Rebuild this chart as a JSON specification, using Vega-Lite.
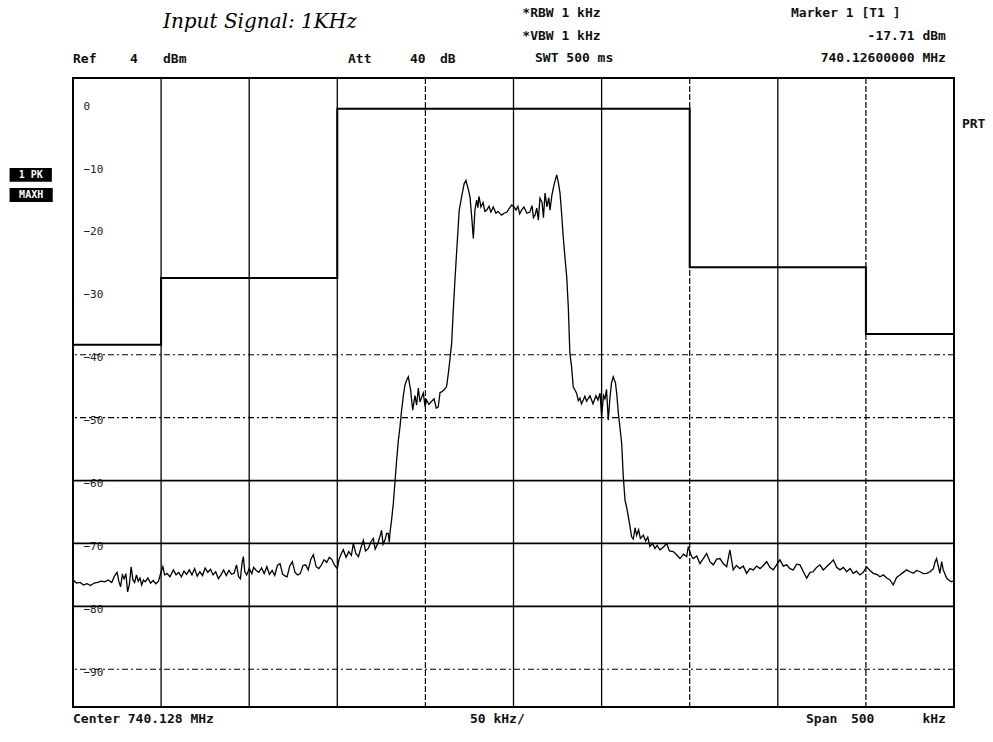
{
  "$schema": "https://vega.github.io/schema/vega-lite/v6.json",
  "width": 881,
  "height": 629,
  "autosize": {"type": "none"},
  "padding": {"left": 73, "top": 78, "right": 39, "bottom": 35},
  "background": "white",
  "config": {"view": {"stroke": "#000", "strokeWidth": 2}},
  "datasets": {
    "vsolid": [{"f": -200}, {"f": -150}, {"f": -100}, {"f": 0}, {"f": 50}, {"f": 150}],
    "vdash": [{"f": -50}, {"f": 100}, {"f": 200}],
    "hsolid": [{"db": -60}, {"db": -70}, {"db": -80}],
    "hdash": [{"db": -40}, {"db": -50}, {"db": -90}],
    "mask": [
      {"f": -250, "db": -38.4}, {"f": -200, "db": -27.8}, {"f": -100, "db": -0.9},
      {"f": 100, "db": -26.1}, {"f": 200, "db": -36.7}, {"f": 250, "db": -36.7}
    ],
    "trace": [
      {"f": -250, "db": -75.8}, {"f": -248, "db": -76.3}, {"f": -246, "db": -76.2}, {"f": -244, "db": -76.6},
      {"f": -242, "db": -76.4}, {"f": -240, "db": -76.7}, {"f": -238, "db": -76.3}, {"f": -236, "db": -76.2},
      {"f": -234, "db": -76.0}, {"f": -232, "db": -76.1}, {"f": -230, "db": -75.8}, {"f": -228, "db": -76.2},
      {"f": -226.5, "db": -75.2}, {"f": -225, "db": -74.6}, {"f": -224, "db": -76.0}, {"f": -223, "db": -76.9},
      {"f": -222, "db": -75.0}, {"f": -221, "db": -75.6}, {"f": -220, "db": -74.8}, {"f": -219, "db": -77.7},
      {"f": -218, "db": -76.5}, {"f": -217, "db": -73.7}, {"f": -216, "db": -75.8}, {"f": -215, "db": -76.2},
      {"f": -214, "db": -75.0}, {"f": -213, "db": -76.0}, {"f": -212, "db": -75.5}, {"f": -211, "db": -76.6},
      {"f": -210, "db": -75.8}, {"f": -209, "db": -76.1}, {"f": -207.5, "db": -75.5}, {"f": -206, "db": -76.3},
      {"f": -204.5, "db": -75.9}, {"f": -203, "db": -76.4}, {"f": -201.5, "db": -76.0}, {"f": -200, "db": -74.5},
      {"f": -199, "db": -73.7}, {"f": -198, "db": -75.0}, {"f": -196.5, "db": -74.8}, {"f": -195, "db": -75.3},
      {"f": -193, "db": -74.2}, {"f": -191.5, "db": -75.0}, {"f": -190, "db": -74.6}, {"f": -188.5, "db": -75.3},
      {"f": -187, "db": -74.4}, {"f": -185.5, "db": -74.9}, {"f": -184, "db": -74.2}, {"f": -182.5, "db": -75.0},
      {"f": -181, "db": -74.0}, {"f": -179.5, "db": -75.2}, {"f": -178, "db": -74.5}, {"f": -176.5, "db": -75.1},
      {"f": -175, "db": -73.9}, {"f": -173.5, "db": -74.6}, {"f": -172, "db": -74.1}, {"f": -170.5, "db": -75.0},
      {"f": -169, "db": -74.5}, {"f": -167.5, "db": -75.6}, {"f": -166, "db": -75.0}, {"f": -164.5, "db": -74.2},
      {"f": -163, "db": -75.1}, {"f": -161.5, "db": -74.3}, {"f": -160, "db": -74.9}, {"f": -158.5, "db": -74.7},
      {"f": -157.2, "db": -73.4}, {"f": -156, "db": -75.3}, {"f": -155, "db": -75.6}, {"f": -154, "db": -73.0},
      {"f": -153.3, "db": -72.1}, {"f": -152.5, "db": -74.5}, {"f": -151.4, "db": -75.0}, {"f": -150, "db": -74.0},
      {"f": -148.5, "db": -74.8}, {"f": -147.5, "db": -73.8}, {"f": -146, "db": -74.3}, {"f": -144.5, "db": -74.6},
      {"f": -143, "db": -73.9}, {"f": -141.5, "db": -74.8}, {"f": -140, "db": -73.7}, {"f": -138.5, "db": -74.9},
      {"f": -137, "db": -74.3}, {"f": -135.5, "db": -75.1}, {"f": -134, "db": -73.5}, {"f": -132.5, "db": -73.2},
      {"f": -131, "db": -74.9}, {"f": -129.5, "db": -75.2}, {"f": -128.5, "db": -75.3}, {"f": -127, "db": -73.6},
      {"f": -125.5, "db": -72.9}, {"f": -124, "db": -74.6}, {"f": -122.5, "db": -75.0}, {"f": -121, "db": -74.8},
      {"f": -119.5, "db": -73.5}, {"f": -118, "db": -73.4}, {"f": -116.5, "db": -74.2}, {"f": -115, "db": -72.5},
      {"f": -113.6, "db": -71.8}, {"f": -112, "db": -73.7}, {"f": -110.5, "db": -74.0}, {"f": -109, "db": -73.4},
      {"f": -107.5, "db": -72.6}, {"f": -106, "db": -73.0}, {"f": -104.5, "db": -72.2}, {"f": -103, "db": -72.6},
      {"f": -101.5, "db": -73.5}, {"f": -100, "db": -74.0}, {"f": -99, "db": -72.5}, {"f": -98, "db": -71.8},
      {"f": -96.6, "db": -71.0}, {"f": -95, "db": -72.2}, {"f": -93.5, "db": -71.3}, {"f": -92, "db": -71.9},
      {"f": -90.9, "db": -70.0}, {"f": -89.5, "db": -71.6}, {"f": -88, "db": -72.1}, {"f": -86.5, "db": -70.6},
      {"f": -85.2, "db": -69.5}, {"f": -84, "db": -71.2}, {"f": -82.4, "db": -70.8}, {"f": -81, "db": -69.8},
      {"f": -79.6, "db": -69.2}, {"f": -78.5, "db": -70.9}, {"f": -77, "db": -70.0}, {"f": -75.5, "db": -68.6},
      {"f": -74.9, "db": -67.9}, {"f": -74, "db": -70.1}, {"f": -73, "db": -69.5}, {"f": -72, "db": -68.4},
      {"f": -71.1, "db": -68.4}, {"f": -70.5, "db": -69.8}, {"f": -70.1, "db": -68.3}, {"f": -69.2, "db": -66.3},
      {"f": -68.2, "db": -63.6}, {"f": -67.2, "db": -60.0}, {"f": -66.3, "db": -56.7}, {"f": -65.3, "db": -53.5},
      {"f": -64.4, "db": -51.4}, {"f": -63.5, "db": -48.8}, {"f": -62.5, "db": -46.5}, {"f": -61.6, "db": -44.8},
      {"f": -60.6, "db": -44.0}, {"f": -59.7, "db": -43.5}, {"f": -58.4, "db": -45.6}, {"f": -57.2, "db": -48.8},
      {"f": -56.5, "db": -47.5}, {"f": -55.9, "db": -46.5}, {"f": -55.0, "db": -48.0}, {"f": -54.0, "db": -45.3},
      {"f": -53.1, "db": -47.5}, {"f": -52.2, "db": -46.8}, {"f": -51.2, "db": -46.1}, {"f": -50.2, "db": -48.2},
      {"f": -49.3, "db": -47.2}, {"f": -48.0, "db": -47.9}, {"f": -46.8, "db": -47.5}, {"f": -45.1, "db": -47.0},
      {"f": -43.8, "db": -48.5}, {"f": -42.7, "db": -48.3}, {"f": -41.7, "db": -46.0}, {"f": -40.8, "db": -45.9},
      {"f": -39.5, "db": -45.6}, {"f": -38.0, "db": -45.1}, {"f": -37.0, "db": -43.0}, {"f": -36.1, "db": -40.8},
      {"f": -35.1, "db": -38.2}, {"f": -34.2, "db": -33.0}, {"f": -33.2, "db": -28.0}, {"f": -32.2, "db": -23.3},
      {"f": -30.8, "db": -17.0}, {"f": -29.2, "db": -14.5}, {"f": -28.0, "db": -12.8}, {"f": -27.0, "db": -12.3},
      {"f": -25.8, "db": -13.5}, {"f": -24.7, "db": -14.9}, {"f": -23.6, "db": -18.5}, {"f": -22.8, "db": -21.5},
      {"f": -21.9, "db": -17.0}, {"f": -20.9, "db": -15.4}, {"f": -20.2, "db": -16.6}, {"f": -19.6, "db": -14.8},
      {"f": -18.5, "db": -16.5}, {"f": -17.3, "db": -15.8}, {"f": -16.2, "db": -17.2}, {"f": -15.2, "db": -17.0},
      {"f": -13.9, "db": -16.4}, {"f": -12.8, "db": -17.3}, {"f": -11.5, "db": -16.5}, {"f": -9.95, "db": -17.5},
      {"f": -8.8, "db": -17.2}, {"f": -7.5, "db": -17.6}, {"f": -6.7, "db": -17.8}, {"f": -5.4, "db": -17.5},
      {"f": -3.7, "db": -17.3}, {"f": -2.6, "db": -16.8}, {"f": -1.0, "db": -16.2}, {"f": 0.3, "db": -16.5},
      {"f": 1.4, "db": -17.0}, {"f": 2.5, "db": -16.4}, {"f": 3.5, "db": -17.6}, {"f": 4.6, "db": -17.0},
      {"f": 5.9, "db": -16.5}, {"f": 7.6, "db": -17.5}, {"f": 9.3, "db": -17.3}, {"f": 10.5, "db": -16.3},
      {"f": 11.3, "db": -18.2}, {"f": 12.2, "db": -17.8}, {"f": 13.2, "db": -16.7}, {"f": 14.1, "db": -18.6},
      {"f": 15.0, "db": -15.1}, {"f": 16.2, "db": -15.8}, {"f": 17.0, "db": -18.2}, {"f": 17.9, "db": -14.3},
      {"f": 19.0, "db": -16.5}, {"f": 20.0, "db": -15.0}, {"f": 20.7, "db": -17.0}, {"f": 21.8, "db": -14.6},
      {"f": 23.0, "db": -13.0}, {"f": 24.5, "db": -11.4}, {"f": 25.4, "db": -12.5}, {"f": 26.4, "db": -14.3},
      {"f": 27.3, "db": -17.5}, {"f": 28.2, "db": -21.2}, {"f": 29.2, "db": -24.5}, {"f": 30.2, "db": -27.6},
      {"f": 31.1, "db": -32.4}, {"f": 32.0, "db": -39.8}, {"f": 33.0, "db": -42.0}, {"f": 33.9, "db": -45.1},
      {"f": 35.8, "db": -46.1}, {"f": 36.8, "db": -47.3}, {"f": 37.7, "db": -46.9}, {"f": 38.6, "db": -47.8},
      {"f": 39.6, "db": -47.2}, {"f": 40.5, "db": -46.6}, {"f": 41.5, "db": -47.4}, {"f": 43.4, "db": -46.5},
      {"f": 45.1, "db": -47.8}, {"f": 46.8, "db": -46.5}, {"f": 47.9, "db": -47.2}, {"f": 49.1, "db": -46.1},
      {"f": 50.0, "db": -49.8}, {"f": 51.1, "db": -46.5}, {"f": 51.9, "db": -47.0}, {"f": 52.8, "db": -45.5},
      {"f": 53.8, "db": -50.4}, {"f": 54.7, "db": -47.0}, {"f": 55.6, "db": -44.5}, {"f": 56.6, "db": -43.5},
      {"f": 57.9, "db": -44.5}, {"f": 58.7, "db": -46.5}, {"f": 59.5, "db": -49.3}, {"f": 60.4, "db": -51.5},
      {"f": 61.4, "db": -54.1}, {"f": 62.3, "db": -59.4}, {"f": 63.3, "db": -63.1}, {"f": 64.4, "db": -64.5},
      {"f": 65.2, "db": -65.8}, {"f": 66.1, "db": -67.3}, {"f": 67.0, "db": -68.9}, {"f": 68.0, "db": -69.3},
      {"f": 69.0, "db": -67.5}, {"f": 69.9, "db": -68.7}, {"f": 71.0, "db": -67.8}, {"f": 72.0, "db": -69.2},
      {"f": 73.7, "db": -68.7}, {"f": 75.0, "db": -69.6}, {"f": 76.2, "db": -69.0}, {"f": 77.4, "db": -70.5},
      {"f": 78.8, "db": -70.0}, {"f": 80.3, "db": -70.8}, {"f": 81.5, "db": -70.3}, {"f": 83.1, "db": -71.0},
      {"f": 85.0, "db": -70.6}, {"f": 86.9, "db": -70.0}, {"f": 88.5, "db": -71.2}, {"f": 90.7, "db": -71.3},
      {"f": 92.5, "db": -71.8}, {"f": 94.5, "db": -72.4}, {"f": 96.5, "db": -71.7}, {"f": 98.3, "db": -72.1},
      {"f": 99.2, "db": -70.5}, {"f": 100.1, "db": -71.3}, {"f": 101, "db": -72.0}, {"f": 102.0, "db": -72.4},
      {"f": 104, "db": -72.0}, {"f": 105.8, "db": -73.2}, {"f": 107.5, "db": -72.5}, {"f": 109.6, "db": -71.6},
      {"f": 111.5, "db": -72.9}, {"f": 113.4, "db": -73.4}, {"f": 115.3, "db": -72.5}, {"f": 117.2, "db": -72.4},
      {"f": 119, "db": -73.2}, {"f": 121.0, "db": -73.7}, {"f": 122.8, "db": -71.0}, {"f": 124.7, "db": -74.2},
      {"f": 126.5, "db": -73.5}, {"f": 128.5, "db": -74.0}, {"f": 130.4, "db": -73.6}, {"f": 132.3, "db": -74.75},
      {"f": 134.2, "db": -74.0}, {"f": 136.1, "db": -74.2}, {"f": 138, "db": -73.6}, {"f": 139.9, "db": -74.0},
      {"f": 141.8, "db": -73.5}, {"f": 143.7, "db": -72.9}, {"f": 145.5, "db": -73.8}, {"f": 147.4, "db": -74.2},
      {"f": 149.3, "db": -73.4}, {"f": 151.2, "db": -72.6}, {"f": 153.1, "db": -73.6}, {"f": 155.0, "db": -73.4},
      {"f": 156.9, "db": -74.0}, {"f": 158.8, "db": -74.2}, {"f": 160.7, "db": -73.3}, {"f": 162.6, "db": -73.4},
      {"f": 164.5, "db": -74.5}, {"f": 166.4, "db": -75.5}, {"f": 168.3, "db": -74.6}, {"f": 170.1, "db": -74.5},
      {"f": 172, "db": -73.8}, {"f": 173.9, "db": -73.4}, {"f": 175.8, "db": -74.2}, {"f": 177.7, "db": -73.7},
      {"f": 179.6, "db": -73.2}, {"f": 181.5, "db": -72.6}, {"f": 183.4, "db": -73.8}, {"f": 185.3, "db": -74.2},
      {"f": 187.2, "db": -73.8}, {"f": 189.1, "db": -74.5}, {"f": 191.0, "db": -74.0}, {"f": 192.8, "db": -74.75},
      {"f": 194.7, "db": -74.4}, {"f": 196.6, "db": -75.0}, {"f": 198.5, "db": -74.6}, {"f": 200.4, "db": -73.7},
      {"f": 202.3, "db": -74.3}, {"f": 204.2, "db": -74.75}, {"f": 206.1, "db": -74.9}, {"f": 208.0, "db": -75.3},
      {"f": 209.9, "db": -75.0}, {"f": 211.8, "db": -75.5}, {"f": 213.7, "db": -75.8}, {"f": 215.5, "db": -76.6},
      {"f": 217.4, "db": -75.4}, {"f": 219.3, "db": -75.0}, {"f": 221.2, "db": -74.6}, {"f": 223.1, "db": -74.2},
      {"f": 225.0, "db": -74.5}, {"f": 226.9, "db": -74.75}, {"f": 228.8, "db": -74.3}, {"f": 230.7, "db": -74.5},
      {"f": 232.6, "db": -74.8}, {"f": 234.5, "db": -74.75}, {"f": 236.4, "db": -74.5}, {"f": 238.3, "db": -74.0},
      {"f": 239.2, "db": -73.0}, {"f": 240.1, "db": -72.4}, {"f": 241.0, "db": -73.5}, {"f": 242.0, "db": -74.75},
      {"f": 243.0, "db": -72.9}, {"f": 243.9, "db": -74.2}, {"f": 245.8, "db": -75.5}, {"f": 247, "db": -75.8},
      {"f": 248.6, "db": -76.1}, {"f": 250, "db": -75.9}
    ],
    "notes": [
      {"f": -250, "db": 7.0, "label": "Ref"},
      {"f": -217.7, "db": 7.0, "label": "4"},
      {"f": -198.9, "db": 7.0, "label": "dBm"},
      {"f": -93.9, "db": 7.0, "label": "Att"},
      {"f": -58.8, "db": 7.0, "label": "40"},
      {"f": -41.7, "db": 7.0, "label": "dB"},
      {"f": 5.0, "db": 14.3, "label": "*RBW 1 kHz"},
      {"f": 5.0, "db": 10.7, "label": "*VBW 1 kHz"},
      {"f": 12.2, "db": 7.2, "label": "SWT 500 ms"},
      {"f": 157.5, "db": 14.3, "label": "Marker 1 [T1 ]"},
      {"f": -250, "db": -97.9, "label": "Center 740.128 MHz"},
      {"f": -24.7, "db": -97.9, "label": "50 kHz/"},
      {"f": 166, "db": -97.9, "label": "Span"},
      {"f": 191.5, "db": -97.9, "label": "500"},
      {"f": 254.5, "db": -3.3, "label": "PRT"}
    ],
    "rnotes": [
      {"f": 245.4, "db": 10.7, "label": "-17.71 dBm"},
      {"f": 245.4, "db": 7.2, "label": "740.12600000 MHz"},
      {"f": 245.4, "db": -97.9, "label": "kHz"}
    ],
    "hand": [{"f": -198.9, "db": 12.9, "label": "Input Signal:  1KHz"}],
    "boxes": [
      {"f1": -286, "f2": -262, "d1": -10.3, "d2": -12.5, "fm": -274, "dm": -11.4, "label": "1 PK"},
      {"f1": -286, "f2": -261.5, "d1": -13.5, "d2": -15.7, "fm": -273.75, "dm": -14.6, "label": "MAXH"}
    ]
  },
  "layer": [
    {
      "data": {"name": "vsolid"},
      "mark": {"type": "rule", "color": "#000", "strokeWidth": 1.3},
      "encoding": {
        "x": {"field": "f", "type": "quantitative", "scale": {"domain": [-250, 250], "nice": false, "zero": false}, "axis": null}
      }
    },
    {
      "data": {"name": "vdash"},
      "mark": {"type": "rule", "color": "#000", "strokeWidth": 1.2, "strokeDash": [6, 2]},
      "encoding": {"x": {"field": "f", "type": "quantitative", "axis": null}}
    },
    {
      "data": {"name": "hsolid"},
      "mark": {"type": "rule", "color": "#000", "strokeWidth": 1.7},
      "encoding": {
        "y": {
          "field": "db", "type": "quantitative",
          "scale": {"domain": [-96, 4], "nice": false, "zero": false},
          "axis": {
            "values": [0, -10, -20, -30, -40, -50, -60, -70, -80, -90],
            "orient": "left", "domain": false, "ticks": false, "tickSize": 0, "grid": false,
            "labelAlign": "left", "labelPadding": -10, "labelOffset": 3,
            "labelFont": "DejaVu Sans Mono", "labelFontSize": 11, "labelColor": "#222", "title": null
          }
        }
      }
    },
    {
      "data": {"name": "hdash"},
      "mark": {"type": "rule", "color": "#000", "strokeWidth": 1.2, "strokeDash": [6, 3, 2, 3]},
      "encoding": {"y": {"field": "db", "type": "quantitative"}}
    },
    {
      "data": {"name": "mask"},
      "mark": {"type": "line", "color": "#000", "strokeWidth": 2, "interpolate": "step-after"},
      "encoding": {
        "x": {"field": "f", "type": "quantitative", "axis": null},
        "y": {"field": "db", "type": "quantitative"}
      }
    },
    {
      "data": {"name": "trace"},
      "mark": {"type": "line", "color": "#000", "strokeWidth": 1.3},
      "encoding": {
        "x": {"field": "f", "type": "quantitative", "axis": null},
        "y": {"field": "db", "type": "quantitative"}
      }
    },
    {
      "data": {"name": "notes"},
      "mark": {"type": "text", "align": "left", "baseline": "middle", "font": "DejaVu Sans Mono", "fontSize": 13, "fontWeight": "bold", "color": "#111"},
      "encoding": {
        "x": {"field": "f", "type": "quantitative", "axis": null},
        "y": {"field": "db", "type": "quantitative"},
        "text": {"field": "label"}
      }
    },
    {
      "data": {"name": "rnotes"},
      "mark": {"type": "text", "align": "right", "baseline": "middle", "font": "DejaVu Sans Mono", "fontSize": 13, "fontWeight": "bold", "color": "#111"},
      "encoding": {
        "x": {"field": "f", "type": "quantitative", "axis": null},
        "y": {"field": "db", "type": "quantitative"},
        "text": {"field": "label"}
      }
    },
    {
      "data": {"name": "hand"},
      "mark": {"type": "text", "align": "left", "baseline": "middle", "font": "DejaVu Serif", "fontStyle": "italic", "fontSize": 20, "color": "#000"},
      "encoding": {
        "x": {"field": "f", "type": "quantitative", "axis": null},
        "y": {"field": "db", "type": "quantitative"},
        "text": {"field": "label"}
      }
    },
    {
      "data": {"name": "boxes"},
      "mark": {"type": "rect", "color": "#000"},
      "encoding": {
        "x": {"field": "f1", "type": "quantitative", "axis": null},
        "x2": {"field": "f2"},
        "y": {"field": "d1", "type": "quantitative"},
        "y2": {"field": "d2"}
      }
    },
    {
      "data": {"name": "boxes"},
      "mark": {"type": "text", "align": "center", "baseline": "middle", "font": "DejaVu Sans Mono", "fontSize": 10, "fontWeight": "bold", "color": "#fff"},
      "encoding": {
        "x": {"field": "fm", "type": "quantitative", "axis": null},
        "y": {"field": "dm", "type": "quantitative"},
        "text": {"field": "label"}
      }
    }
  ]
}
